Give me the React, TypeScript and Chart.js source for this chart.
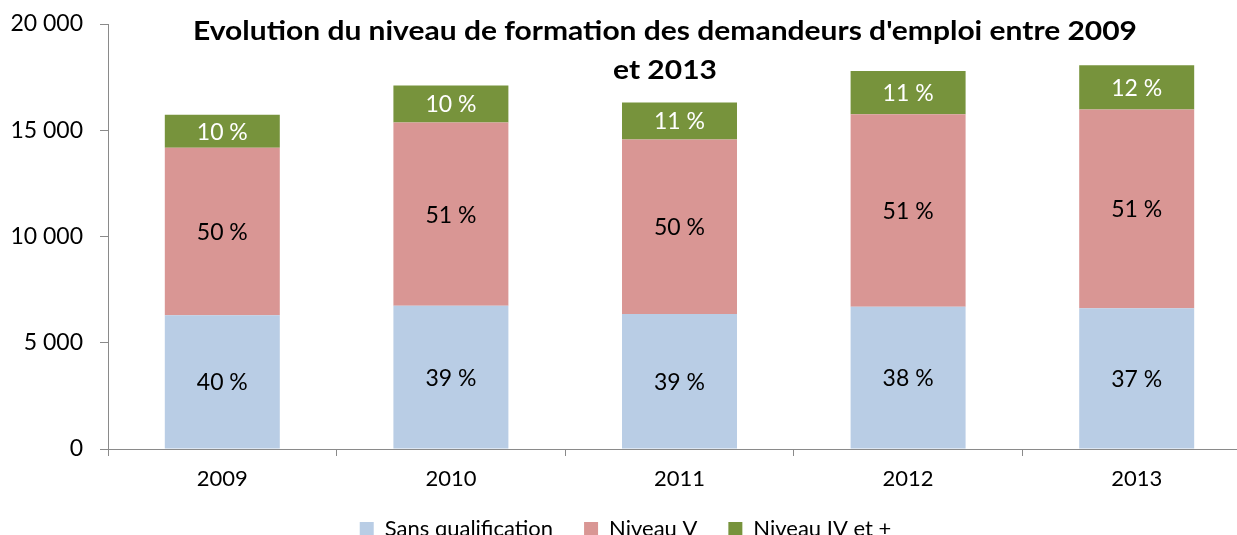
import React, { useEffect, useRef } from "react";
import { Chart, registerables } from "chart.js";

Chart.register(...registerables);

const categories = ["2009", "2010", "2011", "2012", "2013"];
const sansQualification = [6300, 6740, 6350, 6690, 6620];
const niveauV = [7880, 8620, 8210, 9060, 9360];
const niveauIVPlus = [1550, 1750, 1750, 2040, 2080];
const sansQualificationPct = ["40 %", "39 %", "39 %", "38 %", "37 %"];
const niveauVPct = ["50 %", "51 %", "50 %", "51 %", "51 %"];
const niveauIVPlusPct = ["10 %", "10 %", "11 %", "11 %", "12 %"];
const seriesNames = ["Sans qualification", "Niveau V", "Niveau IV et +"];
const titleLines = [
  "Evolution du niveau de formation des demandeurs d'emploi entre 2009",
  "et 2013",
];
const yTicks = [0, 5000, 10000, 15000, 20000];

const FONT = "Lato";
const AXIS_COLOR = "#8a8a8a";

const segmentLabels = [sansQualificationPct, niveauVPct, niveauIVPlusPct];
const segmentLabelColors = ["#000000", "#000000", "#ffffff"];

const formatThousands = (v: number) =>
  String(v).replace(/\B(?=(\d{3})+(?!\d))/g, " ");

const labelPlugin = {
  id: "segmentLabels",
  afterDatasetsDraw(chart: any) {
    const ctx = chart.ctx;
    ctx.save();
    ctx.font = `23px ${FONT}`;
    ctx.textAlign = "center";
    ctx.textBaseline = "middle";
    chart.data.datasets.forEach((_ds: any, i: number) => {
      const meta = chart.getDatasetMeta(i);
      meta.data.forEach((bar: any, j: number) => {
        const { x, y, base } = bar.getProps(["x", "y", "base"], true);
        ctx.fillStyle = segmentLabelColors[i];
        ctx.fillText(segmentLabels[i][j], x, (y + base) / 2 + 1);
      });
    });
    ctx.restore();
  },
};

const titlePlugin = {
  id: "overlayTitle",
  afterDraw(chart: any) {
    const ctx = chart.ctx;
    ctx.save();
    ctx.font = `bold 27px ${FONT}`;
    ctx.fillStyle = "#000000";
    ctx.textAlign = "center";
    ctx.textBaseline = "middle";
    const w = ctx.measureText(titleLines[0]).width;
    const sx = 944 / w;
    const cx = 665;
    ctx.translate(cx, 0);
    ctx.scale(sx, 1);
    ctx.fillText(titleLines[0], 0, 31);
    ctx.fillText(titleLines[1], 0, 70);
    ctx.restore();
  },
};

export default function App() {
  const canvasRef = useRef<HTMLCanvasElement | null>(null);

  useEffect(() => {
    document.body.style.margin = "0";
    const canvas = canvasRef.current;
    if (!canvas) return;
    Chart.defaults.font.family = FONT;
    Chart.defaults.color = "#000000";
    const chart = new Chart(canvas, {
      type: "bar",
      data: {
        labels: categories,
        datasets: [
          {
            label: seriesNames[0],
            data: sansQualification,
            backgroundColor: "#B9CDE5",
          },
          {
            label: seriesNames[1],
            data: niveauV,
            backgroundColor: "#D99694",
          },
          {
            label: seriesNames[2],
            data: niveauIVPlus,
            backgroundColor: "#77933C",
          },
        ],
      },
      options: {
        responsive: false,
        animation: false,
        devicePixelRatio: 1,
        layout: { padding: { left: 0, right: 9, top: 24, bottom: 0 } },
        datasets: {
          bar: { categoryPercentage: 0.503, barPercentage: 1 },
        },
        plugins: {
          title: { display: false },
          tooltip: { enabled: false },
          legend: {
            position: "bottom",
            labels: {
              boxWidth: 14,
              boxHeight: 14,
              padding: 31,
              color: "#000000",
              font: { size: 22, family: FONT },
            },
          },
        },
        scales: {
          x: {
            stacked: true,
            afterFit: (scale: any) => {
              scale.height = 38;
            },
            grid: {
              drawOnChartArea: false,
              drawTicks: true,
              tickLength: 7,
              color: AXIS_COLOR,
              offset: true,
            },
            border: { display: true, color: AXIS_COLOR, width: 1 },
            ticks: {
              padding: 10,
              color: "#000000",
              font: { size: 22, family: FONT },
              maxRotation: 0,
            },
          },
          y: {
            stacked: true,
            min: 0,
            max: 20000,
            afterFit: (scale: any) => {
              scale.width = 108;
              scale.paddingTop = 0;
              scale.paddingBottom = 0;
            },
            afterBuildTicks: (scale: any) => {
              scale.ticks = yTicks.map((v) => ({ value: v }));
            },
            grid: {
              drawOnChartArea: false,
              drawTicks: true,
              tickLength: 8,
              color: AXIS_COLOR,
            },
            border: { display: true, color: AXIS_COLOR, width: 1 },
            ticks: {
              padding: 17,
              color: "#000000",
              font: { size: 23, family: FONT },
              callback: (v: any) => formatThousands(Number(v)),
            },
          },
        },
      },
      plugins: [labelPlugin, titlePlugin],
    });
    return () => chart.destroy();
  }, []);

  return (
    <div
      style={{
        position: "absolute",
        left: 0,
        top: 0,
        width: 1237,
        height: 535,
        overflow: "hidden",
        background: "#ffffff",
      }}
    >
      <canvas
        ref={canvasRef}
        width={1260}
        height={550}
        style={{ display: "block", width: 1260, height: 550 }}
      />
    </div>
  );
}
